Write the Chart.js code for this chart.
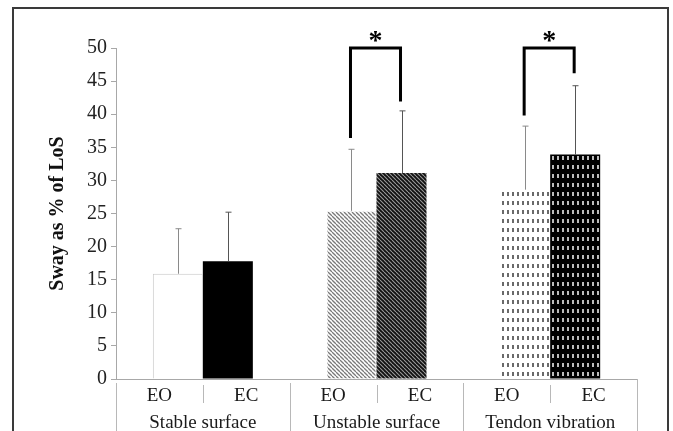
<!DOCTYPE html>
<html>
<head>
<meta charset="utf-8">
<script src="https://cdn.jsdelivr.net/npm/chart.js@4"></script>
<style>
  html, body { margin: 0; padding: 0; background: #fff; }
  #wrap { position: relative; width: 673px; height: 431px; }
</style>
</head>
<body>
<div id="wrap"><canvas id="chart" width="673" height="431"></canvas></div>
<script>
// data
const conditions = ['Stable surface', 'Unstable surface', 'Tendon vibration'];
const eoMeans = [15.9, 25.4, 28.6];
const ecMeans = [17.8, 31.1, 33.9];
const eoSD = [6.8, 9.3, 9.6];
const ecSD = [7.4, 9.4, 10.4];
const yTicks = [0, 5, 10, 15, 20, 25, 30, 35, 40, 45, 50];
// significance brackets: condition index, top of bracket, bottom of EO leg, bottom of EC leg
const sigIndex = [1, 2];
const sigTop = [50, 50];
const sigEOLeg = [36.4, 39.8];
const sigECLeg = [41.9, 46.2];

const serif = '"Liberation Serif", "Times New Roman", serif';

function diagPattern(bg, fg, w) {
    const c = document.createElement('canvas');
    c.width = 4; c.height = 4;
    const g = c.getContext('2d');
    g.fillStyle = bg;
    g.fillRect(0, 0, 4, 4);
    g.strokeStyle = fg;
    g.lineWidth = w;
    [-4, 0, 4].forEach(o => {
        g.beginPath();
        g.moveTo(o, 0);
        g.lineTo(o + 4, 4);
        g.stroke();
    });
    return g.createPattern(c, 'repeat');
}

function dashPattern(bg, fg) {
    const c = document.createElement('canvas');
    c.width = 5; c.height = 9;
    const g = c.getContext('2d');
    g.fillStyle = bg;
    g.fillRect(0, 0, 5, 9);
    g.fillStyle = fg;
    g.fillRect(2, 3, 2, 4);
    return g.createPattern(c, 'repeat');
}

const eoFill = ['#ffffff', diagPattern('#ffffff', '#7a7a7a', 1.3), dashPattern('#ffffff', '#6a6a6a')];
const ecFill = ['#000000', diagPattern('#111111', '#9a9a9a', 1.1), dashPattern('#000000', '#bdbdbd')];

const decorPlugin = {
    id: 'decor',
    beforeDraw(chart) {
        const ctx = chart.ctx;
        ctx.save();
        ctx.strokeStyle = '#3a3a3a';
        ctx.lineWidth = 2;
        ctx.strokeRect(13, 8, 655, 500);
        ctx.restore();
    },
    afterDatasetsDraw(chart) {
        const ctx = chart.ctx;
        const y = chart.scales.y;
        const x = chart.scales.x;
        const eoMeta = chart.getDatasetMeta(0);
        const ecMeta = chart.getDatasetMeta(1);
        ctx.save();

        // error bars
        const errs = [[eoMeta, eoMeans, eoSD, '#8a8a8a'], [ecMeta, ecMeans, ecSD, '#555555']];
        errs.forEach(([meta, means, sd, col]) => {
            meta.data.forEach((bar, i) => {
                const bx = Math.round(bar.x) + 0.5;
                const top = y.getPixelForValue(means[i] + sd[i]);
                ctx.strokeStyle = col;
                ctx.lineWidth = 1;
                ctx.beginPath();
                ctx.moveTo(bx, bar.y);
                ctx.lineTo(bx, top);
                ctx.moveTo(bx - 3, top);
                ctx.lineTo(bx + 3, top);
                ctx.stroke();
            });
        });

        // significance brackets
        sigIndex.forEach((ci, k) => {
            const x1 = eoMeta.data[ci].x - 1;
            const x2 = ecMeta.data[ci].x - 1;
            const yt = y.getPixelForValue(sigTop[k]);
            ctx.strokeStyle = '#000';
            ctx.lineWidth = 3;
            ctx.lineJoin = 'miter';
            ctx.beginPath();
            ctx.moveTo(x1, y.getPixelForValue(sigEOLeg[k]));
            ctx.lineTo(x1, yt);
            ctx.lineTo(x2, yt);
            ctx.lineTo(x2, y.getPixelForValue(sigECLeg[k]));
            ctx.stroke();
            ctx.fillStyle = '#000';
            ctx.font = 'bold 28px ' + serif;
            ctx.textAlign = 'center';
            ctx.textBaseline = 'alphabetic';
            ctx.fillText('*', (x1 + x2) / 2, yt + 1);
        });

        // two-level category labels under the axis
        const n = conditions.length;
        const w = (x.right - x.left) / n;
        const axisY = chart.chartArea.bottom;
        ctx.strokeStyle = '#b8b8b8';
        ctx.lineWidth = 1;
        ctx.beginPath();
        for (let k = 0; k <= n; k++) {
            const sx = Math.round(x.left + k * w) + 0.5;
            ctx.moveTo(sx, k === n ? axisY : axisY + 4);
            ctx.lineTo(sx, 431);
        }
        for (let k = 0; k < n; k++) {
            const sx = Math.round(x.left + (k + 0.5) * w) + 0.5;
            ctx.moveTo(sx, axisY + 6);
            ctx.lineTo(sx, axisY + 24);
        }
        ctx.stroke();

        ctx.fillStyle = '#1a1a1a';
        ctx.font = '19px ' + serif;
        ctx.textAlign = 'center';
        ctx.textBaseline = 'middle';
        for (let k = 0; k < n; k++) {
            ctx.fillText('EO', x.left + (k + 0.25) * w, axisY + 17);
            ctx.fillText('EC', x.left + (k + 0.75) * w, axisY + 17);
            ctx.fillText(conditions[k], x.left + (k + 0.5) * w, axisY + 44);
        }
        ctx.restore();
    }
};

new Chart(document.getElementById('chart'), {
    type: 'bar',
    data: {
        labels: conditions,
        datasets: [
            {
                label: 'EO',
                data: eoMeans,
                backgroundColor: eoFill,
                borderColor: ['#c8c8c8', 'rgba(0,0,0,0)', 'rgba(0,0,0,0)'],
                borderWidth: 1,
                categoryPercentage: 0.576,
                barPercentage: 1.0
            },
            {
                label: 'EC',
                data: ecMeans,
                backgroundColor: ecFill,
                borderWidth: 0,
                categoryPercentage: 0.576,
                barPercentage: 1.0
            }
        ]
    },
    options: {
        responsive: false,
        animation: false,
        devicePixelRatio: 1,
        layout: { padding: { left: 0, right: 36, top: 48, bottom: 0 } },
        plugins: {
            legend: { display: false },
            tooltip: { enabled: false }
        },
        scales: {
            x: {
                grid: { display: false },
                border: { display: true, color: '#a8a8a8', width: 1 },
                ticks: { display: false },
                afterFit: (s) => { s.height = 52; }
            },
            y: {
                min: 0,
                max: 50,
                afterBuildTicks: (s) => { s.ticks = yTicks.map(v => ({ value: v })); },
                grid: { drawOnChartArea: false, drawTicks: true, tickLength: 5, color: '#a8a8a8' },
                border: { display: true, color: '#a8a8a8', width: 1 },
                ticks: {
                    color: '#222',
                    padding: 4,
                    font: { family: serif, size: 20 }
                },
                title: {
                    display: true,
                    text: 'Sway as % of LoS',
                    color: '#111',
                    padding: { top: 46, bottom: 0 },
                    font: { family: serif, size: 20, weight: 'bold' }
                },
                afterFit: (s) => { s.width = 116; }
            }
        }
    },
    plugins: [decorPlugin]
});
</script>
</body>
</html>
